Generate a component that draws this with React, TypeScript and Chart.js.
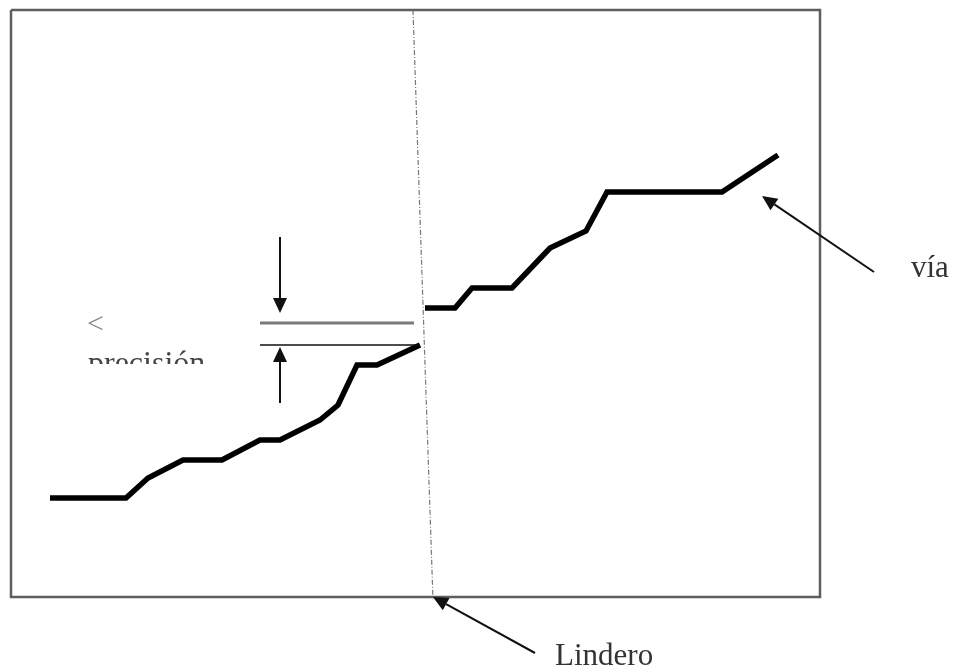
import React, { useEffect, useRef } from "react";
import { Chart, registerables, Plugin } from "chart.js";

Chart.register(...registerables);

// road profile, left of the boundary (x, y in picture units, y grows downward)
const roadLeftX = [50, 126, 148, 183, 222, 260, 280, 320, 338, 357, 377, 420];
const roadLeftY = [498, 498, 478, 460, 460, 440, 440, 420, 405, 365, 365, 345];

// road profile, right of the boundary
const roadRightX = [425, 455, 472, 512, 550, 586, 607, 722, 778];
const roadRightY = [308, 308, 288, 288, 248, 231, 192, 192, 155];

// frame of the plot
const frameX = [11, 820, 820, 11, 11];
const frameY = [10, 10, 597, 597, 10];

// boundary line (Lindero)
const linderoX = [413, 433];
const linderoY = [10, 600];

// the two precision marks
const precTopX = [260, 414];
const precTopY = [323, 323];
const precBottomX = [260, 420];
const precBottomY = [345, 345];

// arrows: [fromX, fromY, toX, toY]
const arrows: number[][] = [
  [280, 237, 280, 313],
  [280, 403, 280, 347],
  [874, 272, 762, 196],
  [535, 653, 433, 597],
];

const labels = ["<", "precisión", "vía", "Lindero"];
const labelX = [87, 88, 911, 555];
const labelY = [333, 373, 277, 665];

const pts = (xs: number[], ys: number[]) => xs.map((x, i) => ({ x, y: ys[i] }));

const overlay: Plugin = {
  id: "overlay",
  afterDatasetsDraw(chart) {
    const { ctx } = chart;
    const sx = chart.scales.x;
    const sy = chart.scales.y;
    ctx.save();
    // arrows
    ctx.strokeStyle = "#111";
    ctx.fillStyle = "#111";
    ctx.lineWidth = 2;
    arrows.forEach(([x1, y1, x2, y2]) => {
      const a = { x: sx.getPixelForValue(x1), y: sy.getPixelForValue(y1) };
      const b = { x: sx.getPixelForValue(x2), y: sy.getPixelForValue(y2) };
      const ang = Math.atan2(b.y - a.y, b.x - a.x);
      const len = 15;
      const w = 7;
      const bx = b.x - len * Math.cos(ang);
      const by = b.y - len * Math.sin(ang);
      ctx.beginPath();
      ctx.moveTo(a.x, a.y);
      ctx.lineTo(bx, by);
      ctx.stroke();
      ctx.beginPath();
      ctx.moveTo(b.x, b.y);
      ctx.lineTo(bx + w * Math.sin(ang), by - w * Math.cos(ang));
      ctx.lineTo(bx - w * Math.sin(ang), by + w * Math.cos(ang));
      ctx.closePath();
      ctx.fill();
    });
    // labels
    ctx.textBaseline = "alphabetic";
    ctx.textAlign = "left";
    labels.forEach((t, i) => {
      const px = sx.getPixelForValue(labelX[i]);
      const py = sy.getPixelForValue(labelY[i]);
      ctx.save();
      if (t === "<") {
        ctx.font = "30px 'Liberation Serif'";
        ctx.fillStyle = "#8a8a8a";
      } else if (t === "precisión") {
        // only the upper part of this word is visible
        ctx.beginPath();
        ctx.rect(0, 0, chart.width, sy.getPixelForValue(364));
        ctx.clip();
        ctx.font = "32px 'Liberation Serif'";
        ctx.fillStyle = "#444";
      } else {
        ctx.font = "31px 'Liberation Serif'";
        ctx.fillStyle = "#333";
      }
      ctx.fillText(t, px, py);
      ctx.restore();
    });
    ctx.restore();
  },
};

const App: React.FC = () => {
  const canvasRef = useRef<HTMLCanvasElement>(null);

  useEffect(() => {
    if (!canvasRef.current) return;
    const line = (data: { x: number; y: number }[], color: string, width: number, dash: number[] = []) => ({
      data,
      showLine: true,
      borderColor: color,
      borderWidth: width,
      borderDash: dash,
      pointRadius: 0,
      fill: false,
      tension: 0,
      clip: false as const,
    });
    const chart = new Chart(canvasRef.current, {
      type: "scatter",
      data: {
        datasets: [
          line(pts(frameX, frameY), "#5e5e5e", 2.5),
          line(pts(linderoX, linderoY), "#777", 1.2, [5, 2, 1, 2]),
          line(pts(precTopX, precTopY), "#7a7a7a", 3),
          line(pts(precBottomX, precBottomY), "#111", 1.5),
          line(pts(roadLeftX, roadLeftY), "#000", 5.5),
          line(pts(roadRightX, roadRightY), "#000", 5.5),
        ],
      },
      options: {
        responsive: false,
        animation: false,
        layout: { padding: 0 },
        plugins: { legend: { display: false }, tooltip: { enabled: false } },
        scales: {
          x: { type: "linear", min: 0, max: 956, display: false },
          y: { type: "linear", min: 0, max: 670, reverse: true, display: false },
        },
      },
      plugins: [overlay],
    });
    return () => chart.destroy();
  }, []);

  return (
    <div style={{ position: "fixed", left: 0, top: 0, width: 956, height: 670, background: "#fff" }}>
      <canvas ref={canvasRef} width={956} height={670} />
    </div>
  );
};

export default App;
